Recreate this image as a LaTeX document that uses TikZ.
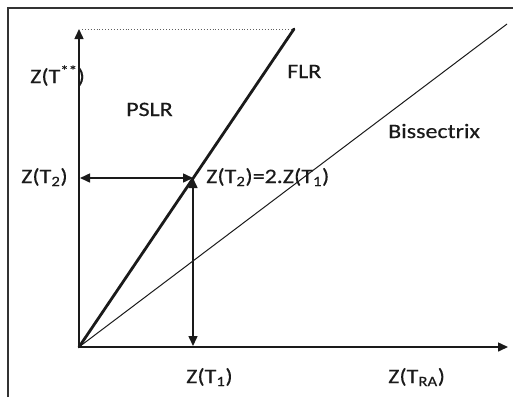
\documentclass[tikz,border=0pt]{standalone}
\usepackage{fontspec}
\setmainfont[FakeStretch=1.17,FakeBold=0.3]{Carlito}
\usepackage{tikz}
\usetikzlibrary{arrows.meta}
\definecolor{grInk}{HTML}{1A1A1A}
\definecolor{grFrame}{HTML}{333333}
\tikzset{
  frame/.style={line width=1.3pt,color=grFrame},
  axis/.style={-{Triangle[length=10pt,width=9pt]},line width=1.5pt,color=grInk},
  flr/.style={line width=2.8pt,color=grInk},
  bis/.style={line width=1pt,color=grInk},
  dimarr/.style={{Triangle[length=10pt,width=9pt]}-{Triangle[length=10pt,width=9pt]},
    line width=1.5pt,color=grInk},
  guide/.style={dotted,line width=0.9pt,color=grInk!70},
  lbl/.style={inner sep=0pt,anchor=base west,text=grInk,
    font=\fontsize{20.5}{24}\selectfont},
}
\begin{document}
\begin{tikzpicture}[x=1pt,y=-1pt]
  \useasboundingbox (0,0) rectangle (513,397);
  \draw[frame] (8,397) -- (8,8) -- (513,8);

  % points of the graph
  \coordinate (O) at (79,347);
  \coordinate (ytop) at (79,29);
  \coordinate (xend) at (508,347);
  \coordinate (flrtop) at (294,29);
  \coordinate (bistop) at (507,24);
  \coordinate (P) at (193,178);
  \coordinate (Py) at (80,178);
  \coordinate (Px) at (193,346);
  \coordinate (dot0) at (82,29);

  \draw[axis] (O) -- (ytop);
  \draw[axis] (O) -- (xend);
  \draw[guide] (dot0) -- (flrtop);
  \draw[bis] (O) -- (bistop);
  \draw[flr,line cap=round] (O) -- (flrtop);
  \draw[dimarr] (Py) -- (P);
  \draw[dimarr] (P) -- (Px);

  % labels
  \node[lbl] (zss) at (30,83) {Z(T\textsuperscript{**})};
  \node[lbl] (pslr) at (126,116) {PSLR};
  \node[lbl] (flrl) at (287,78) {FLR};
  \node[lbl] (bisl) at (388,138) {Bissectrix};
  \node[lbl] (zt2) at (21,183) {Z(T\textsubscript{2})};
  \node[lbl] (zeq) at (206,183) {Z(T\textsubscript{2})=2.Z(T\textsubscript{1})};
  \node[lbl] (zt1) at (186,383) {Z(T\textsubscript{1})};
  \node[lbl] (ztra) at (388,383) {Z(T\textsubscript{RA})};
\end{tikzpicture}
\end{document}
